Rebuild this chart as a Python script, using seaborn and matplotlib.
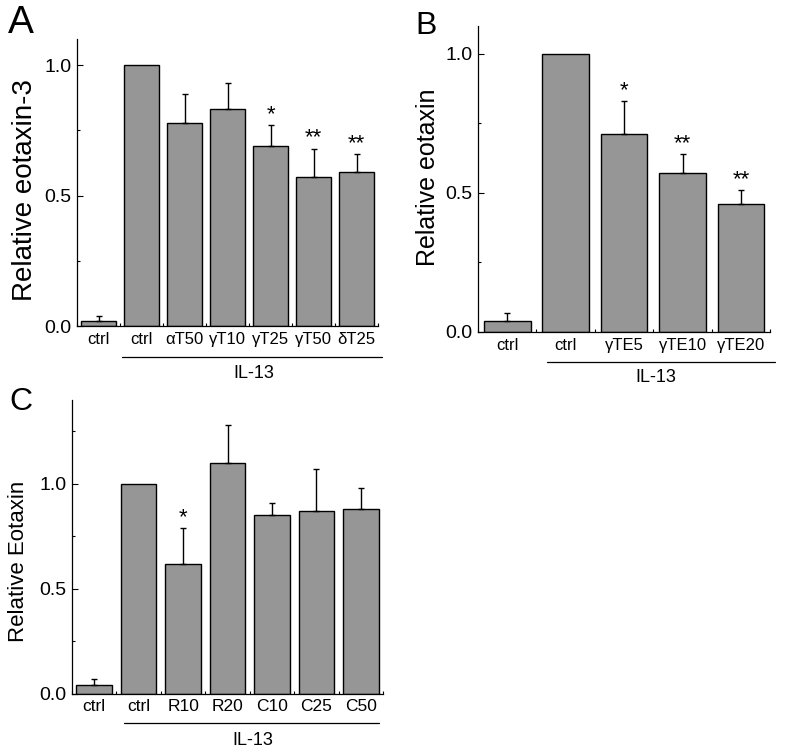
import numpy as np
import pandas as pd
import matplotlib
matplotlib.use("Agg")
import matplotlib.pyplot as plt
from matplotlib.ticker import MultipleLocator, FormatStrFormatter
import seaborn as sns

# ---------------------------------------------------------------------------
# Data
# ---------------------------------------------------------------------------
a_labels = ["ctrl", "ctrl", "\u03b1T50", "\u03b3T10", "\u03b3T25", "\u03b3T50", "\u03b4T25"]
a_values = [0.02, 1.00, 0.78, 0.83, 0.69, 0.57, 0.59]
a_errors = [0.02, 0.00, 0.11, 0.10, 0.08, 0.11, 0.07]
a_stars = ["", "", "", "", "*", "**", "**"]

b_labels = ["ctrl", "ctrl", "\u03b3TE5", "\u03b3TE10", "\u03b3TE20"]
b_values = [0.04, 1.00, 0.71, 0.57, 0.46]
b_errors = [0.03, 0.00, 0.12, 0.07, 0.05]
b_stars = ["", "", "*", "**", "**"]

c_labels = ["ctrl", "ctrl", "R10", "R20", "C10", "C25", "C50"]
c_values = [0.04, 1.00, 0.62, 1.10, 0.85, 0.87, 0.88]
c_errors = [0.03, 0.00, 0.17, 0.18, 0.06, 0.20, 0.10]
c_stars = ["", "", "*", "", "", "", ""]

group_label = "IL-13"

BAR_COLOR = "#969696"


def bar_panel(ax, labels, values, errors, stars, *, ylim, ylabel,
              cat_size=12, line_span=(0.6, 6.5), line_y=-0.10,
              group_x=3.5, group_y=-0.165):
    """Gray bars with one-sided error bars, inward ticks, group line under x labels."""
    keys = [f"{i}_{lab}" for i, lab in enumerate(labels)]
    df = pd.DataFrame({"key": keys, "value": values})
    sns.barplot(data=df, x="key", y="value", order=keys, color=BAR_COLOR,
                saturation=1, edgecolor="black", linewidth=1.0, width=0.8,
                errorbar=None, ax=ax)
    x = np.arange(len(values))
    val = np.asarray(values)
    err = np.asarray(errors)
    has = err > 0
    ax.errorbar(x[has], val[has], yerr=[np.zeros(has.sum()), err[has]],
                fmt="none", ecolor="black", elinewidth=1.0, capsize=2.5,
                capthick=1.0, zorder=1)
    for xi, v, e, s in zip(x, values, errors, stars):
        if s:
            ax.annotate(s, (xi, v + e), xytext=(0, 0), textcoords="offset points",
                        ha="center", va="bottom", fontsize=16)

    ax.set_xlim(-0.5, len(values) - 0.5)
    ax.set_ylim(*ylim)
    ax.set_xticks(x)
    ax.set_xticklabels(labels, fontsize=cat_size)
    ax.xaxis.set_minor_locator(MultipleLocator(1, offset=0.5))
    ax.yaxis.set_major_locator(MultipleLocator(0.5))
    ax.yaxis.set_minor_locator(MultipleLocator(0.25))
    ax.yaxis.set_major_formatter(FormatStrFormatter("%.1f"))
    ax.tick_params(axis="both", which="major", direction="in", length=4,
                   width=0.8, pad=4, color="black", labelcolor="black")
    ax.tick_params(axis="both", which="minor", direction="in", length=2.5,
                   width=0.8, color="black")
    ax.tick_params(axis="y", which="major", labelsize=14)
    ax.set_xlabel(None)
    ax.set_ylabel(ylabel, color="black")
    sns.despine(ax=ax)
    for sp in ("left", "bottom"):
        ax.spines[sp].set_linewidth(0.9)
        ax.spines[sp].set_color("black")

    # group bracket line and label
    tr = ax.get_xaxis_transform()
    ax.plot(line_span, [line_y, line_y], color="black", lw=0.9,
            transform=tr, clip_on=False)
    ax.text(group_x, group_y, group_label, transform=tr, ha="center",
            va="center", fontsize=13, color="black")


sns.set_style("ticks")
plt.rcParams["font.family"] = ["Liberation Sans", "DejaVu Sans"]
plt.rcParams["text.color"] = "black"

fig = plt.figure(figsize=(7.86, 7.54), dpi=100)

# ---- A ----
ax_a = fig.add_axes([0.098, 0.5676, 0.383, 0.3806])
bar_panel(ax_a, a_labels, a_values, a_errors, a_stars, ylim=(0, 1.1),
          ylabel="Relative eotaxin-3", cat_size=12,
          line_span=(0.55, 6.59), line_y=-0.108, group_x=3.6, group_y=-0.167)
ax_a.yaxis.label.set_size(20)
ax_a.yaxis.set_label_coords(-0.13, 0.474)

# ---- B ----
ax_b = fig.add_axes([0.608, 0.5597, 0.372, 0.4058])
bar_panel(ax_b, b_labels, b_values, b_errors, b_stars, ylim=(0, 1.1),
          ylabel="Relative eotaxin", cat_size=12,
          line_span=(0.69, 4.58), line_y=-0.098, group_x=2.55, group_y=-0.15)
ax_b.yaxis.label.set_size(18)
ax_b.yaxis.set_label_coords(-0.13, 0.505)

# ---- C ----
ax_c = fig.add_axes([0.0916, 0.0802, 0.3957, 0.3893])
bar_panel(ax_c, c_labels, c_values, c_errors, c_stars, ylim=(0, 1.4),
          ylabel="Relative Eotaxin", cat_size=12.5,
          line_span=(0.66, 6.41), line_y=-0.10, group_x=3.57, group_y=-0.161)
ax_c.yaxis.label.set_size(16)
ax_c.yaxis.set_label_coords(-0.138, 0.449)

# panel letters
fig.text(0.010, 0.945, "A", fontsize=28, va="bottom", ha="left")
fig.text(0.529, 0.945, "B", fontsize=23, va="bottom", ha="left")
fig.text(0.012, 0.447, "C", fontsize=23, va="bottom", ha="left")

fig.savefig("out.png", dpi=100)
